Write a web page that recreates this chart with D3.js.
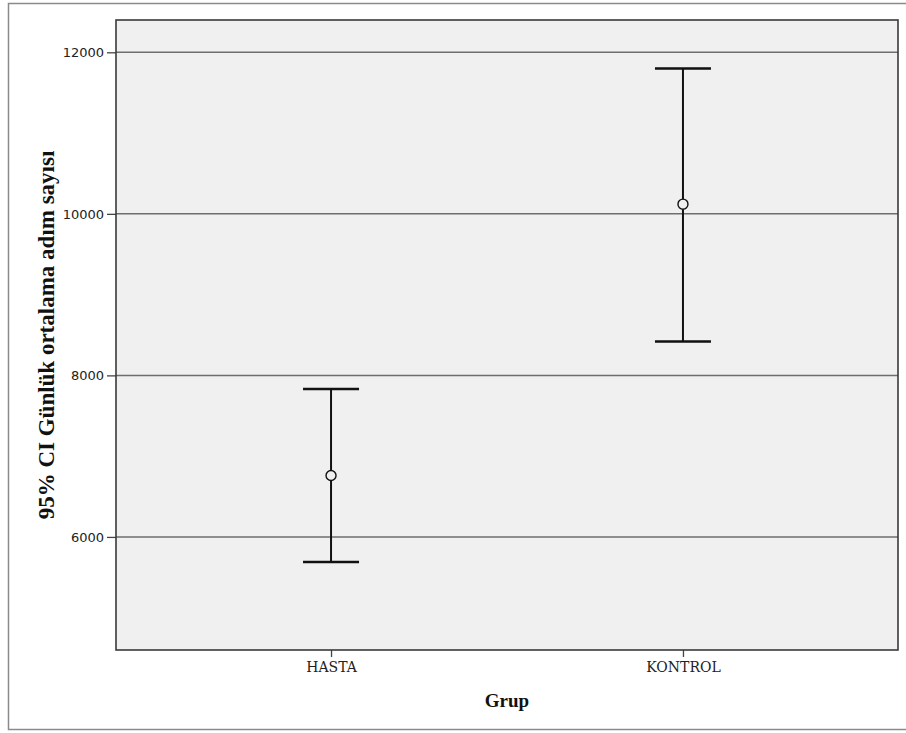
<!DOCTYPE html>
<html>
<head>
<meta charset="utf-8">
<script src="https://cdn.jsdelivr.net/npm/d3@7"></script>
<style>
  body { margin: 0; background: #fff; }
  svg { display: block; }
</style>
</head>
<body>
<div id="chart"></div>
<script>
// groups and 95% CI values
var groups = ['HASTA', 'KONTROL'];
var means  = [6760, 10120];
var lower  = [5690, 8420];
var upper  = [7830, 11800];
var yTicks = [6000, 8000, 10000, 12000];

var width = 906, height = 733;
var plot = { left: 116, top: 20, right: 898, bottom: 650 };

var svg = d3.select('#chart').append('svg')
    .attr('width', width)
    .attr('height', height);

// outer frame
svg.append('path')
    .attr('d', 'M906,3.5 H8.5 V729.5 H906')
    .attr('fill', 'none')
    .attr('stroke', '#8a8a8a')
    .attr('stroke-width', 1.5);

var x = d3.scalePoint()
    .domain(groups)
    .range([plot.left, plot.right])
    .padding(0.611);

var y = d3.scaleLinear()
    .domain([4600, 12400])
    .range([plot.bottom, plot.top]);

// plot background
svg.append('rect')
    .attr('x', plot.left)
    .attr('y', plot.top)
    .attr('width', plot.right - plot.left)
    .attr('height', plot.bottom - plot.top)
    .attr('fill', '#f0f0f0');

// gridlines
svg.selectAll('line.grid')
    .data(yTicks)
    .enter()
    .append('line')
    .attr('class', 'grid')
    .attr('x1', plot.left)
    .attr('x2', plot.right)
    .attr('y1', function (d) { return y(d); })
    .attr('y2', function (d) { return y(d); })
    .attr('stroke', '#6e6e6e')
    .attr('stroke-width', 1.5);

// y axis
var yAxis = svg.append('g')
    .attr('transform', 'translate(' + plot.left + ',0)')
    .call(d3.axisLeft(y).tickValues(yTicks).tickSize(9).tickPadding(3).tickFormat(d3.format('d')));
yAxis.select('.domain').remove();
yAxis.selectAll('.tick line').attr('stroke', '#444').attr('stroke-width', 1.3);
yAxis.selectAll('.tick text')
    .attr('fill', '#222')
    .style('font-family', '"DejaVu Sans", sans-serif')
    .style('font-size', '13px');

// x axis
var xAxis = svg.append('g')
    .attr('transform', 'translate(0,' + plot.bottom + ')')
    .call(d3.axisBottom(x).tickSize(7).tickPadding(5));
xAxis.select('.domain').remove();
xAxis.selectAll('.tick line').attr('stroke', '#444').attr('stroke-width', 1.3);
xAxis.selectAll('.tick text')
    .attr('fill', '#222')
    .style('font-family', '"DejaVu Serif", serif')
    .style('font-size', '14px');

// plot frame
svg.append('rect')
    .attr('x', plot.left)
    .attr('y', plot.top)
    .attr('width', plot.right - plot.left)
    .attr('height', plot.bottom - plot.top)
    .attr('fill', 'none')
    .attr('stroke', '#3a3a3a')
    .attr('stroke-width', 1.6);

// error bars
var capHalf = 28;
var bars = svg.selectAll('g.bar')
    .data(groups)
    .enter()
    .append('g')
    .attr('class', 'bar');

bars.append('line')
    .attr('x1', function (d) { return x(d); })
    .attr('x2', function (d) { return x(d); })
    .attr('y1', function (d, i) { return y(lower[i]); })
    .attr('y2', function (d, i) { return y(upper[i]); })
    .attr('stroke', '#111')
    .attr('stroke-width', 2);

[lower, upper].forEach(function (arr) {
  bars.append('line')
      .attr('x1', function (d) { return x(d) - capHalf; })
      .attr('x2', function (d) { return x(d) + capHalf; })
      .attr('y1', function (d, i) { return y(arr[i]); })
      .attr('y2', function (d, i) { return y(arr[i]); })
      .attr('stroke', '#111')
      .attr('stroke-width', 2.5);
});

bars.append('circle')
    .attr('cx', function (d) { return x(d); })
    .attr('cy', function (d, i) { return y(means[i]); })
    .attr('r', 5)
    .attr('fill', '#f0f0f0')
    .attr('stroke', '#111')
    .attr('stroke-width', 1.4);

// axis titles
svg.append('text')
    .attr('x', (plot.left + plot.right) / 2)
    .attr('y', 707)
    .attr('text-anchor', 'middle')
    .style('font-family', '"Liberation Serif", serif')
    .style('font-weight', 'bold')
    .style('font-size', '19px')
    .attr('fill', '#111')
    .text('Grup');

svg.append('text')
    .attr('transform', 'translate(54,' + ((plot.top + plot.bottom) / 2) + ') rotate(-90)')
    .attr('text-anchor', 'middle')
    .style('font-family', '"Liberation Serif", serif')
    .style('font-weight', 'bold')
    .style('font-size', '23px')
    .attr('fill', '#111')
    .text('95% CI Günlük ortalama adım sayısı');
</script>
</body>
</html>
